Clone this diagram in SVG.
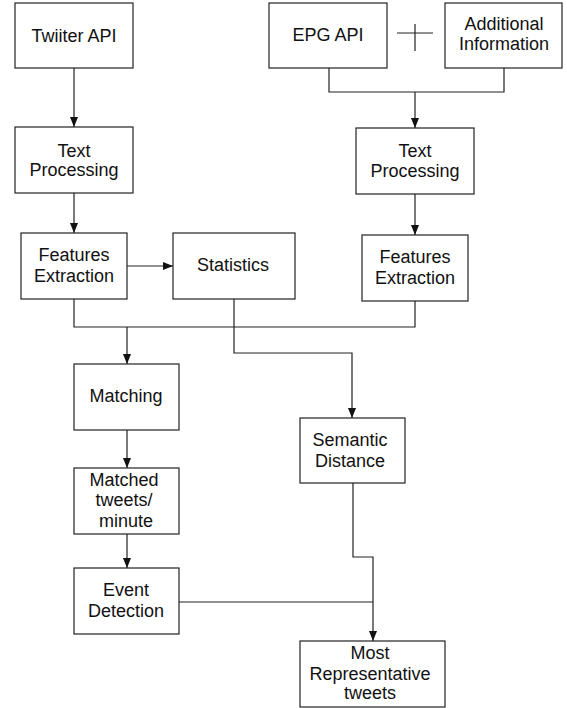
<svg xmlns="http://www.w3.org/2000/svg" width="567" height="708" viewBox="0 0 567 708">
<style>
.box{fill:#fff;stroke:#222;stroke-width:1.2}
text{font-family:"Liberation Sans",Arial,sans-serif;font-size:18px;fill:#111;text-anchor:middle}
.c{fill:none;stroke:#222;stroke-width:1.2}
</style>
<defs>
<marker id="ah" viewBox="0 0 10 10" refX="10" refY="5" markerWidth="10" markerHeight="10" markerUnits="userSpaceOnUse" orient="auto">
<path d="M0,1 L10,5 L0,9 Z" fill="#111"/>
</marker>
</defs>
<rect width="567" height="708" fill="#fff"/>
<g id="connectors">
<line class="c" x1="74" y1="68" x2="74" y2="127" marker-end="url(#ah)"/>
<polyline class="c" points="329,68 329,92 504,92 504,68"/>
<line class="c" x1="415" y1="92" x2="415" y2="128" marker-end="url(#ah)"/>
<g id="plus"><line class="c" x1="397" y1="33" x2="433" y2="33"/><line class="c" x1="415" y1="24" x2="415" y2="51"/></g>
<line class="c" x1="74" y1="193" x2="74" y2="233" marker-end="url(#ah)"/>
<line class="c" x1="415" y1="194" x2="415" y2="235" marker-end="url(#ah)"/>
<line class="c" x1="127" y1="266" x2="173" y2="266" marker-end="url(#ah)"/>
<polyline class="c" points="74,299 74,327 415,327 415,301"/>
<line class="c" x1="127" y1="327" x2="127" y2="364" marker-end="url(#ah)"/>
<polyline class="c" points="234,299 234,353 352,353 352,418" marker-end="url(#ah)"/>
<line class="c" x1="127" y1="430" x2="127" y2="468" marker-end="url(#ah)"/>
<line class="c" x1="127" y1="534" x2="127" y2="568" marker-end="url(#ah)"/>
<polyline class="c" points="353,483 353,557 373,557 373,641" marker-end="url(#ah)"/>
<line class="c" x1="179" y1="602" x2="373" y2="602"/>
</g>
<g id="twitter"><rect class="box" x="15" y="3" width="118" height="65"/><text x="74" y="42">Twiiter API</text></g>
<g id="epg"><rect class="box" x="269" y="3" width="118" height="65"/><text x="328" y="41">EPG API</text></g>
<g id="additional"><rect class="box" x="445" y="3" width="117" height="65"/><text x="504" y="30">Additional</text><text x="504" y="50">Information</text></g>
<g id="tp1"><rect class="box" x="15" y="127" width="118" height="66"/><text x="74" y="157">Text</text><text x="74" y="176">Processing</text></g>
<g id="tp2"><rect class="box" x="356" y="128" width="118" height="66"/><text x="415" y="157">Text</text><text x="415" y="177">Processing</text></g>
<g id="fe1"><rect class="box" x="21" y="233" width="106" height="66"/><text x="74" y="261">Features</text><text x="74" y="282">Extraction</text></g>
<g id="stats"><rect class="box" x="173" y="233" width="122" height="66"/><text x="233" y="271">Statistics</text></g>
<g id="fe2"><rect class="box" x="362" y="235" width="106" height="66"/><text x="415" y="263">Features</text><text x="415" y="284">Extraction</text></g>
<g id="matching"><rect class="box" x="74" y="364" width="105" height="66"/><text x="126" y="402">Matching</text></g>
<g id="matched"><rect class="box" x="74" y="468" width="105" height="66"/><text x="124" y="486">Matched</text><text x="124" y="506">tweets/</text><text x="126" y="527">minute</text></g>
<g id="event"><rect class="box" x="74" y="568" width="105" height="66"/><text x="126" y="596">Event</text><text x="126" y="617">Detection</text></g>
<g id="semantic"><rect class="box" x="300" y="418" width="105" height="65"/><text x="350" y="446">Semantic</text><text x="350" y="467">Distance</text></g>
<g id="most"><rect class="box" x="300" y="641" width="145" height="66"/><text x="370" y="659">Most</text><text x="370" y="680">Representative</text><text x="370" y="699">tweets</text></g>
</svg>
